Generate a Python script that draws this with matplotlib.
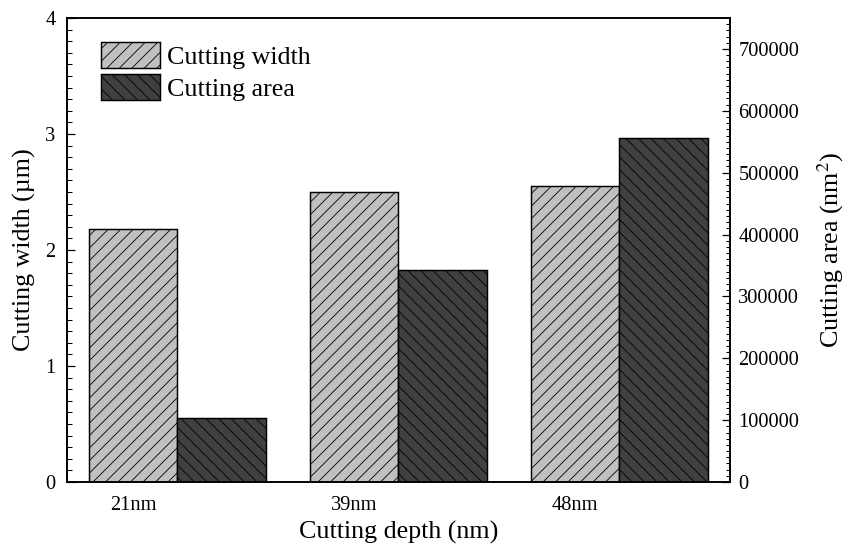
import numpy as np
import matplotlib
matplotlib.use("Agg")
import matplotlib.pyplot as plt

depths = ["21nm", "39nm", "48nm"]
cut_width = [2.18, 2.50, 2.555]          # um
cut_area = [103500, 342500, 555500]      # nm^2

plt.rcParams['font.family'] = ['Liberation Serif', 'DejaVu Serif']
plt.rcParams['mathtext.fontset'] = 'stix'
plt.rcParams['hatch.linewidth'] = 0.8

DPI = 75
fig = plt.figure(figsize=(851 / DPI, 545 / DPI), dpi=DPI)
ax = fig.add_axes([67 / 851, 1 - 482 / 545, (730 - 67) / 851, (482 - 18) / 545])
ax2 = ax.twinx()

x = np.arange(len(depths))
w = 0.4
b1 = ax.bar(x, cut_width, w, color='#c0c0c0', edgecolor='black',
            hatch='//', linewidth=1.4, label='Cutting width')
b2 = ax2.bar(x + w, cut_area, w, color='#404040', edgecolor='black',
             hatch='\\\\', linewidth=1.4, label='Cutting area')

ax.set_xlim(-0.3, 2.7)
ax.set_ylim(0, 4)
ax2.set_ylim(0, 750000)

ax.set_xticks(x)
ax.set_xticklabels(depths)
ax.set_yticks([0, 1, 2, 3, 4])
ax.set_yticks(np.arange(0, 4.01, 0.1), minor=True)
ax2.set_yticks(np.arange(0, 700001, 100000))
ax2.set_yticks(np.arange(0, 750001, 10000), minor=True)

ax.tick_params(axis='x', length=0, labelsize=19.5, pad=13)
ax.tick_params(axis='y', which='major', direction='in', length=8, width=1.2, labelsize=19.5, pad=11)
ax.tick_params(axis='y', which='minor', direction='in', length=4.5, width=1.0)
ax2.tick_params(axis='y', which='major', direction='in', length=8, width=1.2, labelsize=19.5, pad=8)
ax2.tick_params(axis='y', which='minor', direction='in', length=4, width=1.0)

for a in (ax, ax2):
    for s in a.spines.values():
        s.set_linewidth(1.6)

ax.set_xlabel('Cutting depth (nm)', fontsize=25, labelpad=6)
ax.set_ylabel('Cutting width (\u00b5m)', fontsize=25, labelpad=9)
ax2.set_ylabel('Cutting area (nm$^{2}$)', fontsize=25, labelpad=16)

ax.legend([b1, b2], ['Cutting width', 'Cutting area'], loc='upper left',
          bbox_to_anchor=(34 / 663, 1 - 24 / 464), frameon=False, fontsize=25,
          handlelength=2.25, handleheight=1.15, handletextpad=0.3,
          labelspacing=0.22, borderpad=0, borderaxespad=0)

fig.savefig('out.png', dpi=DPI)
